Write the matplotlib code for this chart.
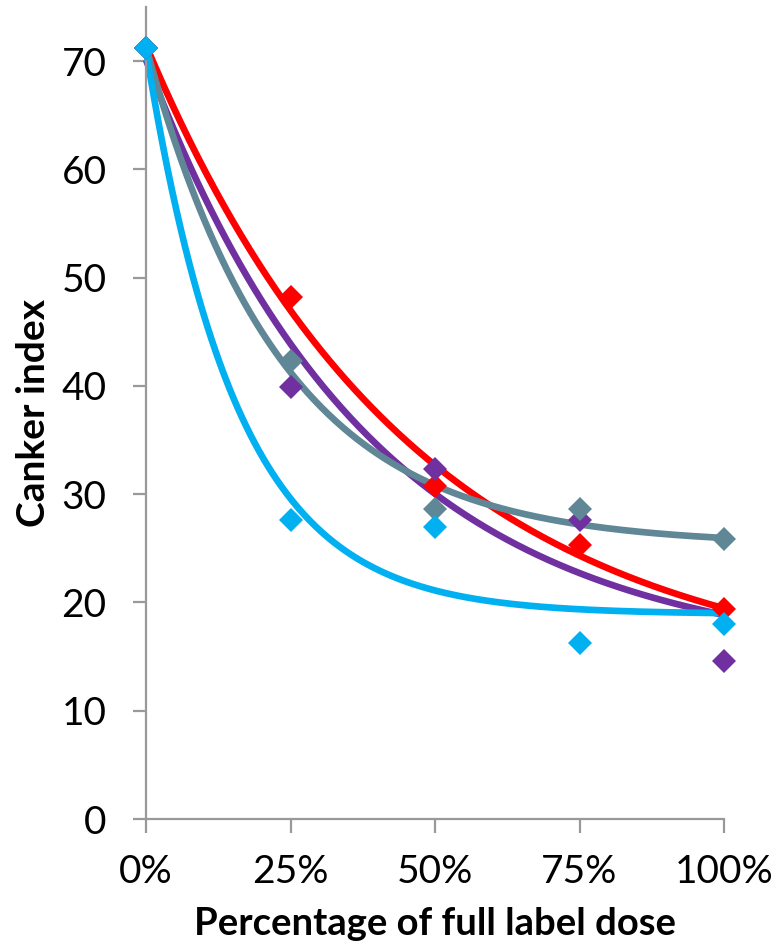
import numpy as np
import matplotlib
matplotlib.use("Agg")
import matplotlib.pyplot as plt
from matplotlib.ticker import FuncFormatter

# ---- data ----
dose = [0, 25, 50, 75, 100]                      # % of full label dose
red = [71.2, 48.2, 30.8, 25.3, 19.4]
purple = [71.2, 39.9, 32.3, 27.6, 14.6]
grey = [71.2, 42.3, 28.6, 28.6, 25.9]
cyan = [71.2, 27.6, 27.0, 16.3, 18.0]
x_ticks = [0, 25, 50, 75, 100]
y_ticks = [0, 10, 20, 30, 40, 50, 60, 70]

series = [
    (red, "#ff0000"),
    (purple, "#7030a0"),
    (grey, "#5f8795"),
    (cyan, "#00b0f0"),
]

FONT = "Lato"
plt.rcParams["font.family"] = [FONT, "DejaVu Sans"]


def fit_exp_offset(x, y):
    """Least-squares fit y = c + a*exp(-k x) (grid over k, linear in c, a)."""
    x = np.asarray(x, float)
    y = np.asarray(y, float)
    best = None
    for k in np.linspace(0.001, 0.3, 3000):
        M = np.column_stack([np.ones_like(x), np.exp(-k * x)])
        coef, *_ = np.linalg.lstsq(M, y, rcond=None)
        r = np.sum((M @ coef - y) ** 2)
        if best is None or r < best[0]:
            best = (r, k, coef)
    _, k, (c, a) = best
    return lambda t: c + a * np.exp(-k * t)


fig = plt.figure(figsize=(7.8, 9.43), dpi=100)
ax = fig.add_axes([146 / 780, 1 - 819 / 943, 578 / 780, 812 / 943])

xs = np.linspace(0, 100, 400)
for vals, col in series:
    f = fit_exp_offset(dose, vals)
    ax.plot(xs, f(xs), color=col, lw=4.8, solid_capstyle="butt", clip_on=False, zorder=2)
for vals, col in series:
    ax.plot(dose, vals, linestyle="none", marker="D", ms=12, color=col,
            markeredgewidth=0, clip_on=False, zorder=3)

ax.set_xlim(0, 100)
ax.set_ylim(0, 75)
ax.set_xticks(x_ticks)
ax.set_yticks(y_ticks)
ax.xaxis.set_major_formatter(FuncFormatter(lambda v, p: f"{int(v)}%"))

for s in ["top", "right"]:
    ax.spines[s].set_visible(False)
for s in ["left", "bottom"]:
    ax.spines[s].set_color("#999999")
    ax.spines[s].set_linewidth(1.6)

ax.tick_params(axis="y", direction="out", length=9.4, width=1.6, color="#999999",
               pad=19, labelsize=28)
ax.tick_params(axis="x", direction="out", length=10, width=1.6, color="#999999",
               pad=15, labelsize=28)

fig.text(435 / 780, 1 - 935 / 943, "Percentage of full label dose", ha="center",
         va="baseline", fontsize=27.5, fontweight="bold")
fig.text(45 / 780, 1 - 413 / 943, "Canker index", rotation=90, rotation_mode="anchor",
         ha="center", va="baseline", fontsize=28, fontweight="bold")

fig.savefig("out.png", dpi=100)
